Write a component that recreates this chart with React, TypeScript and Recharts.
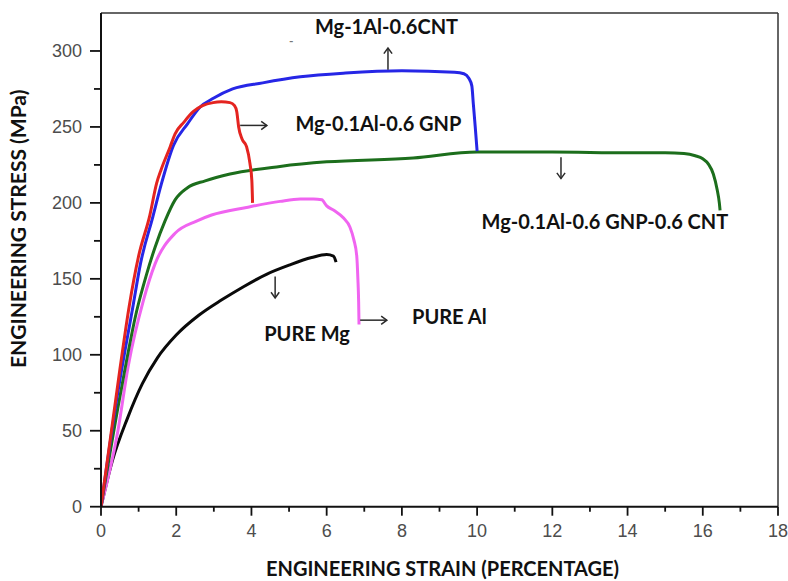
import { Label, Line, LineChart, ReferenceDot, ReferenceLine, XAxis, YAxis } from "recharts";

// strain (%) / stress (MPa) pairs
const pureMgStrain = [0, 0.3, 0.7, 1.1, 1.5, 2.0, 2.6, 3.2, 3.8, 4.4, 5.0, 5.6, 6.0, 6.18, 6.25];
const pureMgStress = [0, 30, 58, 81, 98, 113, 126, 136, 145, 153, 159, 164, 166, 165, 161];

const pureAlStrain = [0, 0.45, 0.72, 1.13, 1.44, 1.97, 2.54, 2.94, 3.87, 4.76, 5.3, 5.65, 5.87, 6.0, 6.2, 6.45, 6.62, 6.72, 6.8, 6.83, 6.85, 6.86];
const pureAlStress = [0, 50, 92, 136, 160, 180, 188, 192, 197, 201, 202.5, 202.5, 202, 198, 195, 190, 184, 176, 165, 150, 135, 120];

const gnpStrain = [0, 0.5, 0.75, 1.0, 1.3, 1.48, 1.6, 1.84, 1.97, 2.2, 2.45, 2.7, 2.98, 3.2, 3.43, 3.55, 3.61, 3.66, 3.75, 3.87, 3.96, 4.01, 4.03];
const gnpStress = [0, 90, 132, 165, 192, 213, 222, 237, 245.5, 253, 260, 264, 266, 266.5, 266, 264, 260, 250, 242, 237, 226, 215, 200];

const cntStrain = [0, 0.4, 0.85, 1.05, 1.38, 1.6, 1.93, 2.3, 2.63, 3.0, 3.5, 4.3, 5.3, 6.5, 8.0, 9.4, 9.65, 9.78, 9.86, 9.9, 9.95, 10.0];
const cntStress = [0, 68, 132, 160, 191, 212, 238, 252, 263, 269, 275, 279, 283, 285.5, 287, 286, 285, 282, 277, 265, 250, 234];

const hybridStrain = [0, 0.5, 0.95, 1.2, 1.44, 1.7, 1.97, 2.3, 2.77, 3.43, 4.76, 6.0, 8.3, 10.0, 12.0, 14.0, 15.0, 15.5, 15.8, 16.0, 16.15, 16.28, 16.38, 16.44, 16.46];
const hybridStress = [0, 72, 129, 152, 171, 188, 202, 210, 214.5, 219, 224, 227, 229.5, 233.5, 233.5, 233, 233, 232.5, 231, 229, 225.5, 219, 209, 200, 195];

const xTicks = [0, 1, 2, 3, 4, 5, 6, 7, 8, 9, 10, 11, 12, 13, 14, 15, 16, 17, 18];
const yTicks = [0, 25, 50, 75, 100, 125, 150, 175, 200, 225, 250, 275, 300];

const labelTexts = ["Mg-1Al-0.6CNT", "Mg-0.1Al-0.6 GNP", "Mg-0.1Al-0.6 GNP-0.6 CNT", "PURE Mg", "PURE Al", "-"];
const labelX = [5.69, 5.17, 10.12, 4.34, 8.27, 5.0];
const labelY = [311.5, 247, 183, 109, 120, 304];

const arrowX1 = [7.63, 3.7, 12.23, 4.63, 6.89];
const arrowY1 = [287.6, 251, 230, 151.6, 122.8];
const arrowX2 = [7.63, 4.41, 12.23, 4.63, 7.6];
const arrowY2 = [302, 251, 216, 137.4, 122.8];

const series = [
  { name: "PURE Mg", strain: pureMgStrain, stress: pureMgStress, color: "#0a0a0a" },
  { name: "PURE Al", strain: pureAlStrain, stress: pureAlStress, color: "#f064f0" },
  { name: "Mg-0.1Al-0.6 GNP-0.6 CNT", strain: hybridStrain, stress: hybridStress, color: "#1c6e1c" },
  { name: "Mg-1Al-0.6CNT", strain: cntStrain, stress: cntStress, color: "#2626e6" },
  { name: "Mg-0.1Al-0.6 GNP", strain: gnpStrain, stress: gnpStress, color: "#e42420" }
];

const tickFont = "'Liberation Sans', Arial, sans-serif";
const boldFont = "Lato, 'Open Sans', sans-serif";

function toPoints(strain: number[], stress: number[]) {
  return strain.map((x, i) => ({ x, y: stress[i] }));
}

function YTick({ x, y, payload }: any) {
  const major = payload.value % 50 === 0;
  return (
    <g>
      <line x1={x - (major ? 11 : 7)} x2={x} y1={y} y2={y} stroke="#111" strokeWidth={1.8} />
      {major ? (
        <text x={x - 19} y={y + 6.5} textAnchor="end" fontFamily={tickFont} fontSize={18} fill="#4d4d4d">
          {payload.value}
        </text>
      ) : null}
    </g>
  );
}

function XTick({ x, y, payload }: any) {
  const major = payload.value % 2 === 0;
  return (
    <g>
      <line x1={x} x2={x} y1={y} y2={y + (major ? 9 : 5)} stroke="#111" strokeWidth={1.8} />
      {major ? (
        <text x={x} y={y + 30} textAnchor="middle" fontFamily={tickFont} fontSize={18} fill="#4d4d4d">
          {payload.value}
        </text>
      ) : null}
    </g>
  );
}

function Arrow({ x1, y1, x2, y2 }: any) {
  const angle = Math.atan2(y2 - y1, x2 - x1);
  const head = 7;
  const a1 = angle + Math.PI * 0.8;
  const a2 = angle - Math.PI * 0.8;
  return (
    <g stroke="#2b2b2b" strokeWidth={1.5} fill="none">
      <line x1={x1} y1={y1} x2={x2} y2={y2} />
      <polyline
        points={`${x2 + head * Math.cos(a1)},${y2 + head * Math.sin(a1)} ${x2},${y2} ${x2 + head * Math.cos(a2)},${y2 + head * Math.sin(a2)}`}
      />
    </g>
  );
}

export default function App() {
  return (
    <div style={{ position: "absolute", left: 0, top: 0, background: "#fff" }}>
      <LineChart width={788} height={581} margin={{ top: 13, right: 10, bottom: 0, left: 0 }}>
        <XAxis
          dataKey="x"
          type="number"
          domain={[0, 18]}
          ticks={xTicks}
          interval={0}
          height={74.3}
          tickSize={0}
          tickMargin={0}
          tickLine={false}
          axisLine={{ stroke: "#111", strokeWidth: 2 }}
          tick={<XTick />}
          allowDataOverflow
        >
          <Label
            content={({ viewBox }: any) => (
              <text
                x={viewBox.x + viewBox.width / 2 + 3}
                y={viewBox.y + 69}
                textAnchor="middle"
                fontFamily={boldFont}
                fontWeight={700}
                fontSize={20}
                fill="#111"
              >
                ENGINEERING STRAIN (PERCENTAGE)
              </text>
            )}
          />
        </XAxis>
        <YAxis
          type="number"
          domain={[0, 325]}
          ticks={yTicks}
          interval={0}
          width={101}
          tickSize={0}
          tickMargin={0}
          tickLine={false}
          axisLine={{ stroke: "#111", strokeWidth: 2 }}
          tick={<YTick />}
          allowDataOverflow
        >
          <Label
            content={({ viewBox }: any) => {
              const cx = 26;
              const cy = viewBox.y + viewBox.height / 2 - 31;
              return (
                <text
                  x={cx}
                  y={cy}
                  transform={`rotate(-90 ${cx} ${cy})`}
                  textAnchor="middle"
                  fontFamily={boldFont}
                  fontWeight={700}
                  fontSize={21}
                  fill="#111"
                >
                  ENGINEERING STRESS (MPa)
                </text>
              );
            }}
          />
        </YAxis>
        <ReferenceLine y={325} stroke="#333" strokeWidth={1.5} />
        <ReferenceLine x={18} stroke="#333" strokeWidth={1.5} />
        {series.map((s) => (
          <Line
            key={s.name}
            data={toPoints(s.strain, s.stress)}
            dataKey="y"
            name={s.name}
            type="monotone"
            stroke={s.color}
            strokeWidth={3}
            strokeLinejoin="round"
            dot={false}
            activeDot={false}
            isAnimationActive={false}
          />
        ))}
        {arrowX1.map((x1, i) => (
          <ReferenceLine
            key={`arrow-${i}`}
            segment={[
              { x: x1, y: arrowY1[i] },
              { x: arrowX2[i], y: arrowY2[i] }
            ]}
            shape={(p: any) => <Arrow {...p} />}
            ifOverflow="visible"
          />
        ))}
        {labelTexts.map((t, i) => (
          <ReferenceDot
            key={`label-${i}`}
            x={labelX[i]}
            y={labelY[i]}
            r={0}
            ifOverflow="visible"
            shape={(p: any) => (
              <text
                x={p.cx}
                y={p.cy}
                fontFamily={boldFont}
                fontWeight={700}
                fontSize={t === "-" ? 12 : 20}
                fill={t === "-" ? "#777" : "#111"}
              >
                {t}
              </text>
            )}
          />
        ))}
      </LineChart>
    </div>
  );
}
